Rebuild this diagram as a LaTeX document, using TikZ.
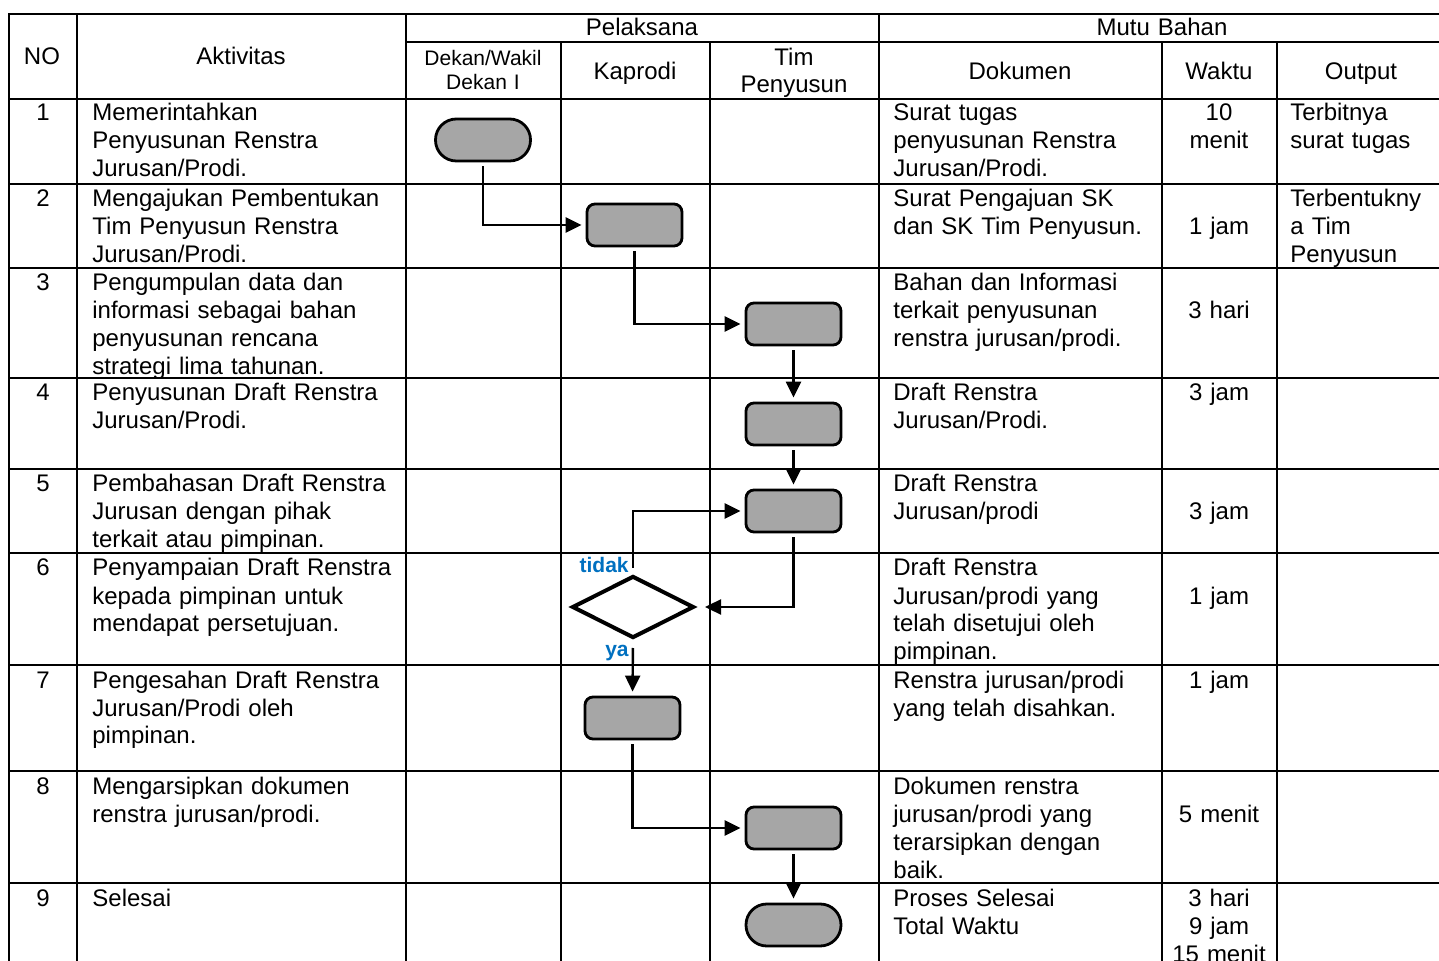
\documentclass[tikz,border=0pt]{standalone}
\usepackage{fontspec}
\setmainfont{Liberation Sans}
\usetikzlibrary{shapes.geometric,arrows.meta}
\definecolor{shapegray}{RGB}{166,166,166}
\definecolor{labelblue}{RGB}{0,112,192}
\begin{document}
\begin{tikzpicture}[x=0.5pt,y=-0.5pt,
  grid/.style={line width=1.3pt},
  cell/.style={font=\fontsize{12}{14}\selectfont, inner sep=0pt, align=left, anchor=base west},
  akt/.style={cell, text width=155pt},
  dok/.style={cell, text width=140pt},
  outp/.style={cell, text width=75pt},
  wkt/.style={font=\fontsize{12}{14}\selectfont, inner sep=0pt, text width=60pt, align=center, anchor=base},
  num/.style={font=\fontsize{12}{14}\selectfont, inner sep=0pt, anchor=base},
  hd/.style={font=\fontsize{12}{14}\selectfont, inner sep=0pt, anchor=base, align=center, text width=80pt},
  hdsmall/.style={font=\fontsize{10.5}{12}\selectfont, inner sep=0pt, anchor=base, align=center, text width=75pt},
  proc/.style={draw, line width=1.4pt, fill=shapegray, rounded corners=4pt, minimum width=47.5pt, minimum height=21pt, inner sep=0pt},
  term/.style={draw, line width=1.4pt, fill=shapegray, rounded corners=10.4pt, minimum width=47.5pt, minimum height=21pt, inner sep=0pt},
  dec/.style={draw, diamond, line width=2pt, fill=white, aspect=2, minimum width=61pt, minimum height=31pt, inner sep=0pt},
  conn/.style={line width=1.2pt, -{Triangle[length=8pt,width=7.5pt]}, shorten <=2pt, shorten >=2pt},
  lbl/.style={font=\fontsize{10.5}{12}\selectfont\bfseries, text=labelblue, inner sep=0pt, anchor=base east}
]
\useasboundingbox (0,0) rectangle (1439,961);

% ---------- table grid ----------
\draw[grid] (9,961) -- (9,14) -- (1439,14);
\draw[grid] (406,42) -- (1439,42);
\draw[grid] (9,99) -- (1439,99);
\foreach \yy in {184,268,378,469,553,665,771,883}
  \draw[grid] (9,\yy) -- (1439,\yy);
\foreach \xx in {77,406,879}
  \draw[grid] (\xx,14) -- (\xx,961);
\foreach \xx in {561,710,1162,1277}
  \draw[grid] (\xx,42) -- (\xx,961);

% ---------- header ----------
\node[hd] (hNO) at (42,65) {NO};
\node[hd] (hAkt) at (241,65) {Aktivitas};
\node[hd, text width=150pt] (hPel) at (642,36) {Pelaksana};
\node[hd, text width=150pt] (hMutu) at (1162,36) {Mutu Bahan};
\node[hdsmall] (hDekan) at (483,66) {Dekan/Wakil\\Dekan I};
\node[hd] (hKap) at (635,80) {Kaprodi};
\node[hd, font=\fontsize{12}{13.5}\selectfont] (hTim) at (794,66) {Tim\\Penyusun};
\node[hd] (hDok) at (1020,80) {Dokumen};
\node[hd] (hWak) at (1219,80) {Waktu};
\node[hd] (hOut) at (1361,80) {Output};

% ---------- row texts ----------
\node[num] (n1) at (43,121) {1};
\node[num] (n2) at (43,207) {2};
\node[num] (n3) at (43,291) {3};
\node[num] (n4) at (43,401) {4};
\node[num] (n5) at (43,492) {5};
\node[num] (n6) at (43,576) {6};
\node[num] (n7) at (43,688) {7};
\node[num] (n8) at (43,794) {8};
\node[num] (n9) at (43,906) {9};

\node[akt] (a1) at (92,121) {Memerintahkan\\Penyusunan Renstra\\Jurusan/Prodi.};
\node[akt] (a2) at (92,207) {Mengajukan Pembentukan\\Tim Penyusun Renstra\\Jurusan/Prodi.};
\node[akt] (a3) at (92,291) {Pengumpulan data dan\\informasi sebagai bahan\\penyusunan rencana\\strategi lima tahunan.};
\node[akt] (a4) at (92,401) {Penyusunan Draft Renstra\\Jurusan/Prodi.};
\node[akt] (a5) at (92,492) {Pembahasan Draft Renstra\\Jurusan dengan pihak\\terkait atau pimpinan.};
\node[akt] (a6) at (92,576) {Penyampaian Draft Renstra\\kepada pimpinan untuk\\mendapat persetujuan.};
\node[akt] (a7) at (92,688) {Pengesahan Draft Renstra\\Jurusan/Prodi oleh\\pimpinan.};
\node[akt] (a8) at (92,794) {Mengarsipkan dokumen\\renstra jurusan/prodi.};
\node[akt] (a9) at (92,906) {Selesai};

\node[dok] (d1) at (893,121) {Surat tugas\\penyusunan Renstra\\Jurusan/Prodi.};
\node[dok] (d2) at (893,207) {Surat Pengajuan SK\\dan SK Tim Penyusun.};
\node[dok] (d3) at (893,291) {Bahan dan Informasi\\terkait penyusunan\\renstra jurusan/prodi.};
\node[dok] (d4) at (893,401) {Draft Renstra\\Jurusan/Prodi.};
\node[dok] (d5) at (893,492) {Draft Renstra\\Jurusan/prodi};
\node[dok] (d6t) at (893,576) {Draft Renstra\\Jurusan/prodi yang\\telah disetujui oleh\\pimpinan.};
\node[dok] (d7) at (893,688) {Renstra jurusan/prodi\\yang telah disahkan.};
\node[dok] (d8) at (893,794) {Dokumen renstra\\jurusan/prodi yang\\terarsipkan dengan\\baik.};
\node[dok] (d9) at (893,906) {Proses Selesai\\Total Waktu};

\node[wkt] (w1) at (1219,121) {10\\menit};
\node[wkt] (w2) at (1219,235) {1 jam};
\node[wkt] (w3) at (1219,319) {3 hari};
\node[wkt] (w4) at (1219,401) {3 jam};
\node[wkt] (w5) at (1219,520) {3 jam};
\node[wkt] (w6) at (1219,604) {1 jam};
\node[wkt] (w7) at (1219,688) {1 jam};
\node[wkt] (w8) at (1219,822) {5 menit};
\node[wkt] (w9) at (1219,906) {3 hari\\9 jam\\15 menit};

\node[outp] (o1) at (1290,121) {Terbitnya\\surat tugas};
\node[outp] (o2) at (1290,207) {Terbentukny\\a Tim\\Penyusun};

% ---------- flowchart ----------
\node[term] (t1) at (483,140) {};
\node[proc] (b2) at (634.5,225) {};
\node[proc] (b3) at (793.5,324) {};
\node[proc] (b4) at (793.5,424) {};
\node[proc] (b5) at (793.5,511) {};
\node[dec] (dc6) at (633,607) {};
\node[proc] (b7) at (632.5,718) {};
\node[proc] (b8) at (793.5,828) {};
\node[term] (t9) at (793.5,925) {};

\draw[conn] (t1.south) |- (b2.west);
\draw[conn] (b2.south) |- (b3.west);
\draw[conn] (b3.south) -- (b4.north);
\draw[conn] (b4.south) -- (b5.north);
\draw[conn, shorten >=4.5pt] (b5.south) |- (dc6.east);
\draw[conn, shorten <=3pt] (dc6.north) |- (b5.west);
\draw[conn, shorten <=4pt] (dc6.south) -- (b7.north);
\draw[conn] (b7.south) |- (b8.west);
\draw[conn] (b8.south) -- (t9.north);

\node[lbl] (ltidak) at (629,573) {tidak};
\node[lbl] (lya) at (629,656) {ya};
\end{tikzpicture}
\end{document}
